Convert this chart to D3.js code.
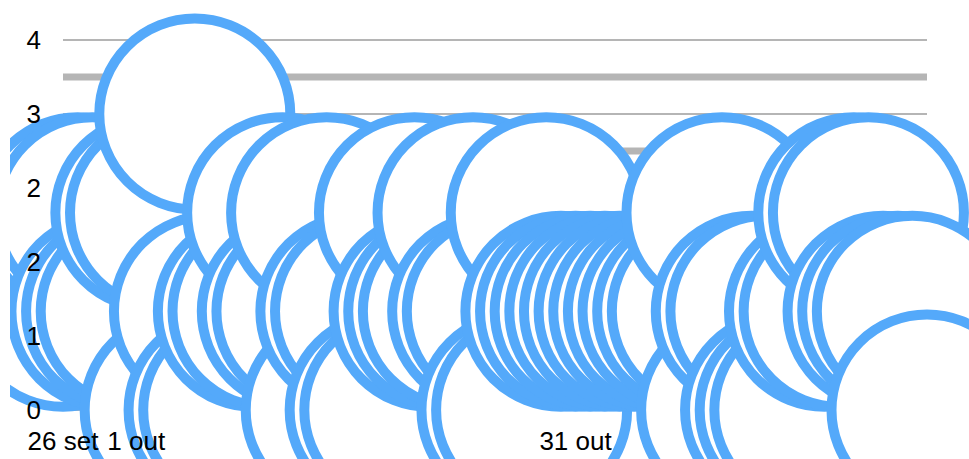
<!DOCTYPE html>
<html>
<head>
<meta charset="utf-8">
<script src="https://cdn.jsdelivr.net/npm/d3@7"></script>
<style>
  html, body { margin: 0; padding: 0; background: #fff; overflow: hidden; }
  svg { display: block; font-family: "Liberation Sans", Arial, sans-serif; }
</style>
</head>
<body>
<svg id="chart" width="969" height="459"></svg>
<script>
// one reading per day, 26 set -> 24 nov
const dates = [
    '2023-09-26', '2023-09-27', '2023-09-28', '2023-09-29', '2023-09-30',
    '2023-10-01', '2023-10-02', '2023-10-03', '2023-10-04', '2023-10-05',
    '2023-10-06', '2023-10-07', '2023-10-08', '2023-10-09', '2023-10-10',
    '2023-10-11', '2023-10-12', '2023-10-13', '2023-10-14', '2023-10-15',
    '2023-10-16', '2023-10-17', '2023-10-18', '2023-10-19', '2023-10-20',
    '2023-10-21', '2023-10-22', '2023-10-23', '2023-10-24', '2023-10-25',
    '2023-10-26', '2023-10-27', '2023-10-28', '2023-10-29', '2023-10-30',
    '2023-10-31', '2023-11-01', '2023-11-02', '2023-11-03', '2023-11-04',
    '2023-11-05', '2023-11-06', '2023-11-07', '2023-11-08', '2023-11-09',
    '2023-11-10', '2023-11-11', '2023-11-12', '2023-11-13', '2023-11-14',
    '2023-11-15', '2023-11-16', '2023-11-17', '2023-11-18', '2023-11-19',
    '2023-11-20', '2023-11-21', '2023-11-22', '2023-11-23', '2023-11-24'
]
const values = [
    1, 2, 2, 1, 1, 1, 2, 2, 0, 3,
    1, 0, 0, 1, 1, 2, 1, 1, 2, 0,
    1, 1, 0, 0, 2, 1, 1, 1, 2, 1,
    1, 0, 0, 2, 1, 1, 1, 1, 1, 1,
    1, 1, 1, 1, 1, 2, 0, 1, 1, 0,
    0, 0, 1, 1, 2, 2, 1, 1, 1, 0
]
const yTicks = [0, 0.75, 1.5, 2.25, 3, 3.75]
const yMinor = [0.375, 1.125, 1.875, 2.625, 3.375]
const xTickDates = ['2023-09-26', '2023-10-01', '2023-10-31']
const xTickLabels = ['26 set', '1 out', '31 out']

const parse = d3.utcParse('%Y-%m-%d')
const data = dates.map((d, i) => ({ date: parse(d), value: values[i] }))

const svg = d3.select('#chart')
const plotLeft = 63, plotRight = 927, plotTop = 40, plotBottom = 410

const x = d3.scaleUtc()
    .domain(d3.extent(data, d => d.date))
    .range([plotLeft, plotRight])
const y = d3.scaleLinear()
    .domain([0, 3.75])
    .range([plotBottom, plotTop])

svg.append('defs').append('clipPath').attr('id', 'clip')
    .append('rect')
    .attr('x', 10).attr('y', 0)
    .attr('width', 959).attr('height', 459)

const grid = svg.append('g')
grid.selectAll('line.minor')
    .data(yMinor)
    .enter().append('line')
    .attr('class', 'minor')
    .attr('x1', plotLeft).attr('x2', plotRight)
    .attr('y1', d => y(d)).attr('y2', d => y(d))
    .attr('stroke', '#b5b5b5')
    .attr('stroke-width', 7)
grid.selectAll('line.major')
    .data(yTicks)
    .enter().append('line')
    .attr('class', 'major')
    .attr('x1', plotLeft).attr('x2', plotRight)
    .attr('y1', d => y(d)).attr('y2', d => y(d))
    .attr('stroke', '#b5b5b5')
    .attr('stroke-width', 2)

svg.append('g')
    .attr('clip-path', 'url(#clip)')
    .selectAll('circle')
    .data(data)
    .enter().append('circle')
    .attr('cx', d => x(d.date))
    .attr('cy', d => y(d.value))
    .attr('r', 95.5)
    .attr('fill', '#fff')
    .attr('stroke', '#54a9fa')
    .attr('stroke-width', 10)

// axis labels sit on top of the bubbles
const fmt = d3.format('.0f')
svg.append('g').selectAll('text')
    .data(yTicks)
    .enter().append('text')
    .attr('x', 41)
    .attr('y', d => y(d))
    .attr('dy', '0.35em')
    .attr('text-anchor', 'end')
    .attr('font-size', 26)
    .attr('fill', '#000')
    .text(d => fmt(d))

svg.append('g').selectAll('text')
    .data(xTickDates)
    .enter().append('text')
    .attr('x', d => x(parse(d)))
    .attr('y', 450)
    .attr('text-anchor', 'middle')
    .attr('font-size', 26)
    .attr('fill', '#000')
    .text((d, i) => xTickLabels[i])
</script>
</body>
</html>
